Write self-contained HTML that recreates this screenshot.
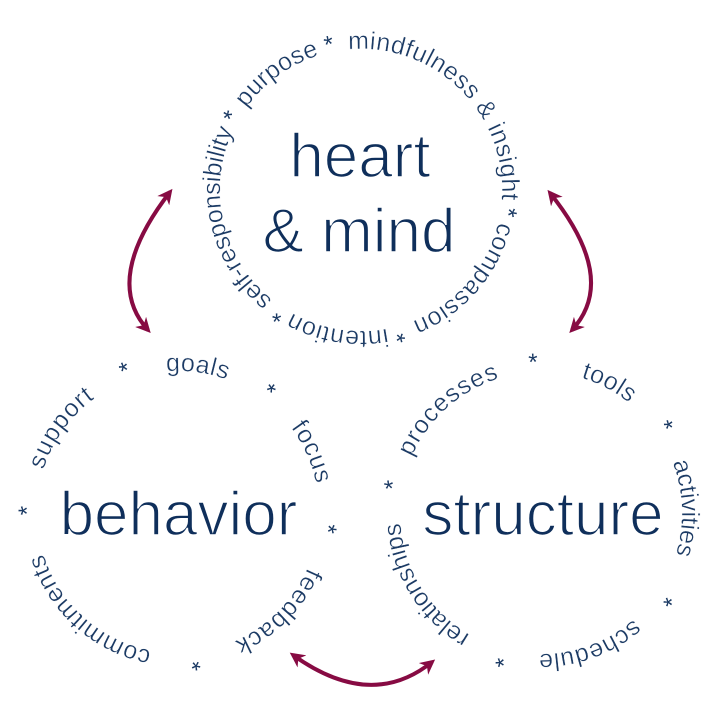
<!DOCTYPE html>
<html>
<head>
<meta charset="utf-8">
<style>
  html, body { margin:0; padding:0; background:#fff; }
  svg { display:block; }
  .ring { font-family:"Liberation Sans", sans-serif; font-size:25px; fill:#1b3a64; stroke:#fff; stroke-width:0.4px; }
  .ast { font-family:"Liberation Sans", sans-serif; font-size:24px; fill:#1b3a64; }
  .big { font-family:"Liberation Sans", sans-serif; font-size:62px; fill:#0f2f5b; stroke:#fff; stroke-width:1.6px; }
</style>
</head>
<body>
<svg width="720" height="720" viewBox="0 0 720 720" xmlns="http://www.w3.org/2000/svg">
  <defs>
    <path id="ph" d="M361,49 A141,141 0 0 1 361,331 A141,141 0 0 1 361,49 A141,141 0 0 1 361,331 A141,141 0 0 1 361,49 A141,141 0 0 1 361,331 A141,141 0 0 1 361,49"/>
    <path id="pb" d="M178,371 A141,141 0 0 1 178,653 A141,141 0 0 1 178,371 A141,141 0 0 1 178,653 A141,141 0 0 1 178,371 A141,141 0 0 1 178,653 A141,141 0 0 1 178,371"/>
    <path id="ps" d="M541,372 A141,141 0 0 1 541,654 A141,141 0 0 1 541,372 A141,141 0 0 1 541,654 A141,141 0 0 1 541,372 A141,141 0 0 1 541,654 A141,141 0 0 1 541,372"/>
    <marker id="ah" viewBox="0 0 15 15" refX="11" refY="7.5" markerWidth="15" markerHeight="15" markerUnits="userSpaceOnUse" orient="auto-start-reverse">
      <path d="M0,0 L15,7.5 L0,15 L4.5,7.5 Z" fill="#870b43"/>
    </marker>
  </defs>

  <!-- heart & mind ring -->
  <text class="ring" text-anchor="middle" letter-spacing="0.2"><textPath href="#ph" startOffset="1683.0">purpose</textPath></text>
  <text class="ring" text-anchor="middle" letter-spacing="0.38"><textPath href="#ph" startOffset="995.0">mindfulness &amp; insight</textPath></text>
  <text class="ring" text-anchor="middle" letter-spacing="0.36"><textPath href="#ph" startOffset="1207.7">compassion</textPath></text>
  <text class="ring" text-anchor="middle" letter-spacing="0.5"><textPath href="#ph" startOffset="1351.6">intention</textPath></text>
  <text class="ring" text-anchor="middle" letter-spacing="-0.24"><textPath href="#ph" startOffset="1517.5">self-responsibility</textPath></text>
  <text class="ast" text-anchor="middle"><textPath href="#ph" startOffset="1740.6">*</textPath></text>
  <text class="ast" text-anchor="middle"><textPath href="#ph" startOffset="1128.1">*</textPath></text>
  <text class="ast" text-anchor="middle"><textPath href="#ph" startOffset="1291.5">*</textPath></text>
  <text class="ast" text-anchor="middle"><textPath href="#ph" startOffset="1410.6">*</textPath></text>
  <text class="ast" text-anchor="middle"><textPath href="#ph" startOffset="1622.2">*</textPath></text>

  <!-- behavior ring -->
  <text class="ring" text-anchor="middle" letter-spacing="0.4"><textPath href="#pb" startOffset="904.7">goals</textPath></text>
  <text class="ring" text-anchor="middle" letter-spacing="0.6"><textPath href="#pb" startOffset="1047.7">focus</textPath></text>
  <text class="ring" text-anchor="middle" letter-spacing="0.7"><textPath href="#pb" startOffset="1217.4">feedback</textPath></text>
  <text class="ring" text-anchor="middle" letter-spacing="0.37"><textPath href="#pb" startOffset="1431.4">commitments</textPath></text>
  <text class="ring" text-anchor="middle" letter-spacing="1.0"><textPath href="#pb" startOffset="1637.6">support</textPath></text>
  <text class="ast" text-anchor="middle" dy="-2"><textPath href="#pb" startOffset="976.7">*</textPath></text>
  <text class="ast" text-anchor="middle" dy="-2"><textPath href="#pb" startOffset="1122.6">*</textPath></text>
  <text class="ast" text-anchor="middle" dy="-2"><textPath href="#pb" startOffset="1311.9">*</textPath></text>
  <text class="ast" text-anchor="middle" dy="-2"><textPath href="#pb" startOffset="1551.1">*</textPath></text>
  <text class="ast" text-anchor="middle" dy="-2"><textPath href="#pb" startOffset="1720.2">*</textPath></text>

  <!-- structure ring -->
  <text class="ring" text-anchor="middle" letter-spacing="0.9"><textPath href="#ps" startOffset="1667.8">processes</textPath></text>
  <text class="ring" text-anchor="middle" letter-spacing="0.45"><textPath href="#ps" startOffset="953.4">tools</textPath></text>
  <text class="ring" text-anchor="middle" letter-spacing="-0.2"><textPath href="#ps" startOffset="1101.7">activities</textPath></text>
  <text class="ring" text-anchor="middle" letter-spacing="0.44"><textPath href="#ps" startOffset="1278.6">schedule</textPath></text>
  <text class="ring" text-anchor="middle" letter-spacing="-0.26"><textPath href="#ps" startOffset="1470.6">relationships</textPath></text>
  <text class="ast" text-anchor="middle" dy="-2"><textPath href="#ps" startOffset="1763.2">*</textPath></text>
  <text class="ast" text-anchor="middle" dy="-2"><textPath href="#ps" startOffset="1021.0">*</textPath></text>
  <text class="ast" text-anchor="middle" dy="-2"><textPath href="#ps" startOffset="1192.8">*</textPath></text>
  <text class="ast" text-anchor="middle" dy="-2"><textPath href="#ps" startOffset="1365.8">*</textPath></text>
  <text class="ast" text-anchor="middle" dy="-2"><textPath href="#ps" startOffset="1575.2">*</textPath></text>

  <!-- center words -->
  <text class="big" x="360" y="177" text-anchor="middle">heart</text>
  <text class="big" x="359" y="252" text-anchor="middle">&amp; mind</text>
  <text class="big" x="178.5" y="535" text-anchor="middle">behavior</text>
  <text class="big" x="543" y="535" text-anchor="middle">structure</text>

  <!-- arrows -->
  <g fill="none" stroke="#870b43" stroke-width="4" marker-start="url(#ah)" marker-end="url(#ah)">
    <path d="M170,192 Q102,280 148,330"/>
    <path d="M550,193 Q619,279 572,330"/>
    <path d="M293,655 Q371,711 432,662"/>
  </g>
</svg>
</body>
</html>
